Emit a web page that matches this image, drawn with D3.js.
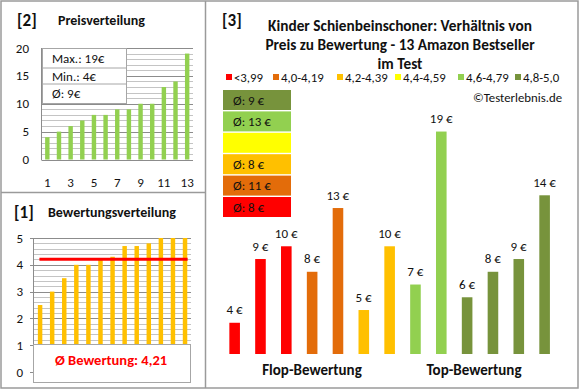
<!DOCTYPE html>
<html><head><meta charset="utf-8">
<script src="https://cdn.jsdelivr.net/npm/d3@7"></script>
<style>
body{margin:0;background:#fff;}
text{font-family:Carlito,Calibri,Lato,sans-serif;}
</style></head>
<body>
<svg id="c" width="580" height="390"></svg>
<script>
// ---- data ----
const priceIdx = [1,2,3,4,5,6,7,8,9,10,11,12,13];
const priceValues = [4,5,6,7,8,8,9,9,10,10,13,14,19];
const priceTicks = [0,5,10,15,20];
const priceXLabels = [1,3,5,7,9,11,13];
const priceInfo = ["Max.: 19€","Min.: 4€","Ø: 9€"];

const ratingValues = [2.5,3,3.5,4,4,4.2,4.3,4.7,4.7,4.8,5,5,5];
const ratingTicks = [0,1,2,3,4,5];
const ratingAvg = 4.21;
const ratingAvgLabel = "Ø Bewertung: 4,21";

const mainPrices = [4,9,10,8,13,5,10,7,19,6,8,9,14];
const mainClasses = [0,0,0,1,1,2,2,4,4,5,5,5,5];
const legendLabels = ["<3,99","4,0-4,19","4,2-4,39","4,4-4,59","4,6-4,79","4,8-5,0"];
const classColors = ["#FF0000","#E36C0A","#FFC000","#FFFF00","#92D050","#77933C"];
const avgBoxLabels = ["Ø: 9 €","Ø: 13 €","","Ø: 8 €","Ø: 11 €","Ø: 8 €"];
const avgBoxClasses = [5,4,3,2,1,0];
const titleLines = ["Kinder Schienbeinschoner: Verhältnis von","Preis zu Bewertung - 13 Amazon Bestseller","im Test"];
const groupLabels = ["Flop-Bewertung","Top-Bewertung"];

const svg = d3.select("#c");
const frame = "#9a9a9a";
const txt = "#111";

// ---- frames ----
svg.append("rect").attr("x",1).attr("y",1).attr("width",577).attr("height",387)
  .attr("fill","none").attr("stroke",frame).attr("stroke-width",1.5);
svg.append("line").attr("x1",205.5).attr("x2",205.5).attr("y1",1).attr("y2",388).attr("stroke",frame).attr("stroke-width",1.5);
svg.append("line").attr("x1",1).attr("x2",205.5).attr("y1",192.5).attr("y2",192.5).attr("stroke",frame).attr("stroke-width",1.5);

// ---- panel [2] Preisverteilung ----
{
  const g = svg.append("g");
  g.append("text").attr("x",17).attr("y",26).attr("font-size",17).attr("font-weight","bold").attr("fill",txt).text("[2]");
  g.append("text").attr("x",58).attr("y",25).attr("font-size",14).attr("font-weight","bold").attr("fill",txt).text("Preisverteilung");
  const x = d3.scaleBand().domain(priceIdx).range([41.5,193]);
  const y = d3.scaleLinear().domain([0,20]).range([159.5,48]);
  const minor = d3.range(0,21,1);
  g.selectAll(".mg").data(minor).join("line")
    .attr("x1",41.5).attr("x2",193).attr("y1",d=>Math.round(y(d))+0.5).attr("y2",d=>Math.round(y(d))+0.5)
    .attr("stroke",d=>d%5===0?"#8c8c8c":"#c4c4c4").attr("stroke-width",1);
  g.append("line").attr("x1",41.5).attr("x2",41.5).attr("y1",48).attr("y2",160).attr("stroke","#8c8c8c");
  g.selectAll(".b").data(priceValues).join("rect")
    .attr("x",(d,i)=>x(priceIdx[i])+x.bandwidth()*0.31).attr("width",x.bandwidth()*0.38)
    .attr("y",d=>y(d)).attr("height",d=>y(0)-y(d)).attr("fill","#92D050");
  g.selectAll(".yl").data(priceTicks).join("text")
    .attr("x",29).attr("y",d=>y(d)+4.5).attr("text-anchor","end").attr("font-size",13).attr("fill",txt).text(d=>d);
  g.selectAll(".xl").data(priceXLabels).join("text")
    .attr("x",d=>x(d)+x.bandwidth()/2).attr("y",187).attr("text-anchor","middle").attr("font-size",13).attr("fill",txt).text(d=>d);
  // info box
  const bx=42.5, by=48.5, bw=84, rowH=[19.5,16,19];
  g.append("rect").attr("x",bx).attr("y",by).attr("width",bw).attr("height",55).attr("fill","#fff").attr("stroke","#a6a6a6");
  let yy=by;
  priceInfo.forEach((t,i)=>{
    if(i>0) g.append("line").attr("x1",bx).attr("x2",bx+bw).attr("y1",yy).attr("y2",yy).attr("stroke","#a6a6a6");
    g.append("text").attr("x",52).attr("y",yy+rowH[i]/2+4.5).attr("font-size",13).attr("fill",txt).text(t);
    yy+=rowH[i];
  });
}

// ---- panel [1] Bewertungsverteilung ----
{
  const g = svg.append("g");
  g.append("text").attr("x",14).attr("y",218).attr("font-size",17).attr("font-weight","bold").attr("fill",txt).text("[1]");
  g.append("text").attr("x",48).attr("y",217).attr("font-size",14).attr("font-weight","bold").attr("fill",txt).text("Bewertungsverteilung");
  const x = d3.scaleBand().domain(d3.range(ratingValues.length)).range([34,191]);
  const y = d3.scaleLinear().domain([0,5]).range([372,238]);
  const minor = d3.range(0,26).map(i=>i/5);
  g.selectAll(".mg").data(minor).join("line")
    .attr("x1",34).attr("x2",191).attr("y1",d=>Math.round(y(d))+0.5).attr("y2",d=>Math.round(y(d))+0.5)
    .attr("stroke",(d,i)=>i%5===0?"#8c8c8c":"#c4c4c4");
  g.append("line").attr("x1",33.5).attr("x2",33.5).attr("y1",238).attr("y2",372).attr("stroke","#8c8c8c");
  g.selectAll(".tk").data(ratingTicks).join("line")
    .attr("x1",30).attr("x2",34).attr("y1",d=>Math.round(y(d))+0.5).attr("y2",d=>Math.round(y(d))+0.5).attr("stroke","#8c8c8c");
  g.selectAll(".b").data(ratingValues).join("rect")
    .attr("x",(d,i)=>x(i)+x.bandwidth()*0.32).attr("width",x.bandwidth()*0.37)
    .attr("y",d=>y(d)).attr("height",d=>y(0)-y(d)).attr("fill","#FFC000");
  g.append("line").attr("x1",x(0)+x.bandwidth()*0.45).attr("x2",x(12)+x.bandwidth()*0.72)
    .attr("y1",y(ratingAvg)).attr("y2",y(ratingAvg)).attr("stroke","#FF0000").attr("stroke-width",3);
  g.selectAll(".yl").data(ratingTicks).join("text")
    .attr("x",23).attr("y",d=>y(d)+4.5).attr("text-anchor","end").attr("font-size",13).attr("fill",txt).text(d=>d);
  g.append("rect").attr("x",33.5).attr("y",344.5).attr("width",157).attr("height",38).attr("fill","#fff").attr("stroke","#a6a6a6");
  g.append("text").attr("x",111).attr("y",364.5).attr("text-anchor","middle").attr("font-size",14.5).attr("font-weight",600).attr("fill","#FF0000").text(ratingAvgLabel);
}

// ---- panel [3] main ----
{
  const g = svg.append("g");
  g.append("text").attr("x",222).attr("y",26).attr("font-size",17).attr("font-weight","bold").attr("fill",txt).text("[3]");
  titleLines.forEach((t,i)=>{
    g.append("text").attr("x",400).attr("y",30.5+i*19).attr("text-anchor","middle").attr("font-size",15.3).attr("font-weight","bold").attr("fill",txt).text(t);
  });
  // legend
  const legX = [226,273,337,395,458,515];
  legendLabels.forEach((t,i)=>{
    g.append("rect").attr("x",legX[i]).attr("y",74).attr("width",6).attr("height",6).attr("fill",classColors[i]);
    g.append("text").attr("x",legX[i]+8).attr("y",81.5).attr("font-size",12.8).attr("fill",txt).text(t);
  });
  g.append("text").attr("x",562).attr("y",102).attr("text-anchor","end").attr("font-size",12.8).attr("fill",txt).text("©Testerlebnis.de");
  // avg boxes
  avgBoxLabels.forEach((t,i)=>{
    const yy = 90 + i*21.4;
    g.append("rect").attr("x",223).attr("y",yy).attr("width",68).attr("height",20).attr("fill",classColors[avgBoxClasses[i]]);
    if(t) g.append("text").attr("x",233).attr("y",yy+14.5).attr("font-size",13).attr("fill",txt).text(t);
  });
  const x = d3.scaleBand().domain(d3.range(mainPrices.length)).range([221.6,557.4]);
  const y = d3.scaleLinear().domain([1.55,20]).range([354,118.8]);
  g.selectAll(".b").data(mainPrices).join("rect")
    .attr("x",(d,i)=>x(i)+x.bandwidth()*0.3).attr("width",x.bandwidth()*0.41)
    .attr("y",d=>y(d)).attr("height",d=>y(1.55)-y(d)).attr("fill",(d,i)=>classColors[mainClasses[i]]);
  g.selectAll(".vl").data(mainPrices).join("text")
    .attr("x",(d,i)=>x(i)+x.bandwidth()*0.5).attr("y",d=>y(d)-8.5).attr("text-anchor","middle")
    .attr("font-size",13).attr("fill",txt).text(d=>d+" €");
  g.append("text").attr("x",312).attr("y",375).attr("text-anchor","middle").attr("font-size",15).attr("font-weight","bold").attr("fill",txt).text(groupLabels[0]);
  g.append("text").attr("x",474).attr("y",375).attr("text-anchor","middle").attr("font-size",15).attr("font-weight","bold").attr("fill",txt).text(groupLabels[1]);
}
</script>
</body></html>
